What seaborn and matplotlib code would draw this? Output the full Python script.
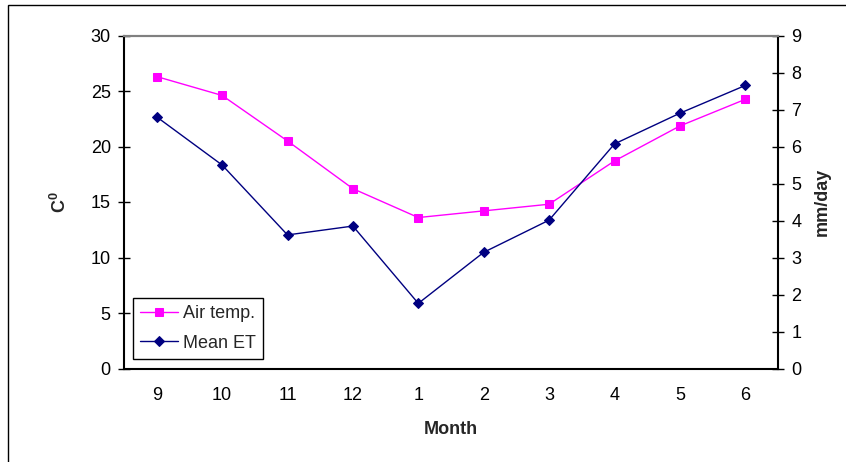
import matplotlib
matplotlib.use('Agg')
import matplotlib.pyplot as plt
import seaborn as sns
import pandas as pd
from matplotlib.patches import Rectangle

months = ['9', '10', '11', '12', '1', '2', '3', '4', '5', '6']
air_temp = [26.3, 24.6, 20.5, 16.2, 13.6, 14.2, 14.8, 18.7, 21.85, 24.25]
mean_et = [6.80, 5.50, 3.61, 3.85, 1.76, 3.14, 4.01, 6.07, 6.90, 7.65]
left_ticks = [0, 5, 10, 15, 20, 25, 30]
right_ticks = [0, 1, 2, 3, 4, 5, 6, 7, 8, 9]

sns.set_theme(style='white')
plt.rcParams['font.family'] = ['Liberation Sans', 'DejaVu Sans']
plt.rcParams['mathtext.fontset'] = 'custom'
plt.rcParams['mathtext.rm'] = 'Liberation Sans'
plt.rcParams['mathtext.bf'] = 'Liberation Sans:bold'

df = pd.DataFrame({'Month': months, 'Air temp.': air_temp, 'Mean ET': mean_et})

W, H = 846, 462
fig = plt.figure(figsize=(W / 100, H / 100), dpi=100)
x0, x1, y0, y1 = 124, 778, 35.5, 368.5
ax = fig.add_axes([x0 / W, 1 - y1 / H, (x1 - x0) / W, (y1 - y0) / H])
ax2 = ax.twinx()

sns.lineplot(data=df, x='Month', y='Air temp.', ax=ax, color='#FF00FF', marker='s',
             markersize=6, markeredgecolor='#FF00FF', linewidth=1.0, sort=False,
             label='Air temp.')
sns.lineplot(data=df, x='Month', y='Mean ET', ax=ax2, color='#000080', marker='D',
             markersize=5.5, markeredgecolor='#000080', linewidth=1.0, sort=False,
             label='Mean ET')

for a in (ax, ax2):
    if a.get_legend() is not None:
        a.get_legend().remove()

n = len(months)
ax.set_xlim(-0.5, n - 0.5)
ax.set_ylim(0, 30)
ax2.set_ylim(0, 9)
ax.set_yticks(left_ticks)
ax2.set_yticks(right_ticks)
ax.set_xticks(range(n))
ax.set_xticklabels(months)
ax.set_xticks([i - 0.5 for i in range(n + 1)], minor=True)

fs = 13
ax.tick_params(axis='x', which='major', length=0, pad=13, labelsize=fs, colors='black')
ax.tick_params(axis='x', which='minor', length=9, direction='inout', width=1, color='#555555')
ax.tick_params(axis='y', which='major', length=9, direction='inout', width=1, pad=5,
               labelsize=fs, colors='black')
ax2.tick_params(axis='y', which='major', length=9, direction='inout', width=1, pad=5,
                labelsize=fs, colors='black')

for a in (ax, ax2):
    a.spines['top'].set_color('#808080')
    a.spines['top'].set_linewidth(1.5)
    for s in ('left', 'bottom', 'right'):
        a.spines[s].set_color('black')
        a.spines[s].set_linewidth(1.5)
ax.spines['right'].set_visible(False)
ax2.spines['left'].set_visible(False)
ax2.spines['bottom'].set_visible(False)

ax.set_xlabel('Month', fontsize=13, fontweight='bold')
ax.xaxis.set_label_coords(0.5, (y1 - 430) / (y1 - y0))
ax.xaxis.label.set_va('center')
ax.set_ylabel(r'$\mathbf{C^0}$', fontsize=13)
ax.yaxis.set_label_coords((60 - x0) / (x1 - x0), 0.5)
ax.yaxis.label.set_va('center')
ax2.set_ylabel('mm/day', fontsize=13, fontweight='bold')
ax2.yaxis.set_label_coords((822 - x0) / (x1 - x0), 0.5)
ax2.yaxis.label.set_va('center')

h1, l1 = ax.get_legend_handles_labels()
h2, l2 = ax2.get_legend_handles_labels()
leg = ax2.legend(h1 + h2, l1 + l2, loc='lower left',
                 bbox_to_anchor=((133 - x0) / (x1 - x0), (y1 - 359) / (y1 - y0)),
                 borderaxespad=0, fontsize=fs, frameon=True, fancybox=False,
                 framealpha=1, edgecolor='black', handlelength=2.1,
                 handletextpad=0.25, borderpad=0.4, labelspacing=0.7)
leg.get_frame().set_linewidth(1.0)

fig.patches.append(Rectangle((8 / W, -0.1), 1.2, (H - 5) / H + 0.1,
                             transform=fig.transFigure, fill=False,
                             edgecolor='black', linewidth=1.0))

fig.savefig('out.png', dpi=100)
